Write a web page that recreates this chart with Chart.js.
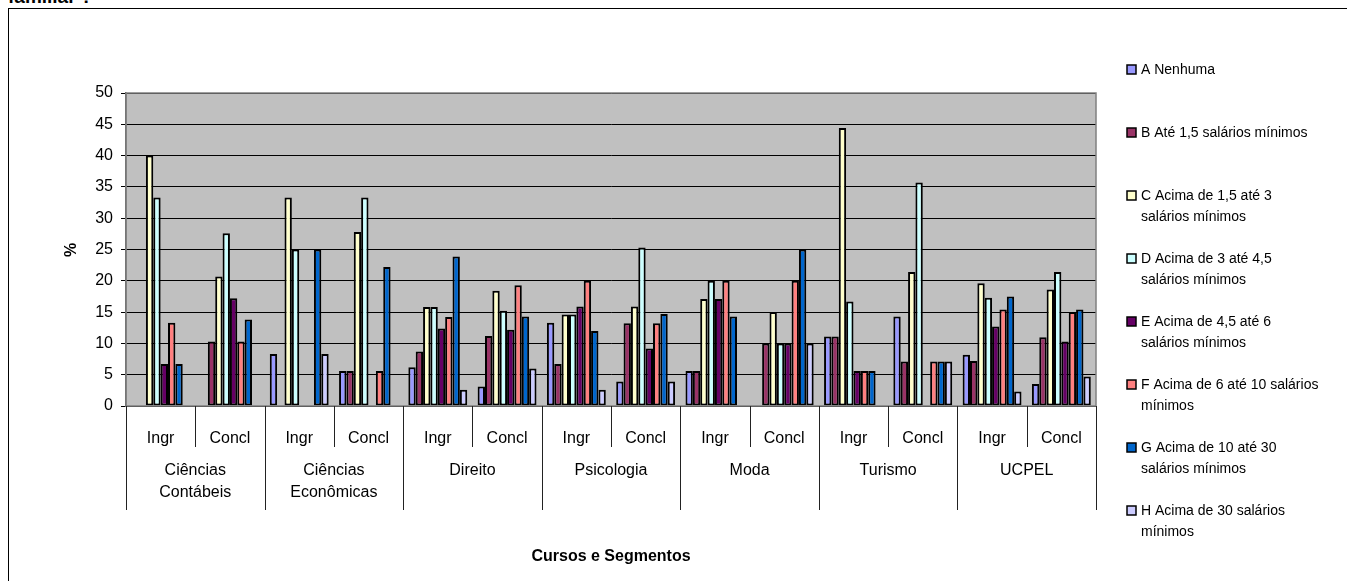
<!DOCTYPE html>
<html>
<head>
<meta charset="utf-8">
<script src="https://cdn.jsdelivr.net/npm/chart.js@4.4.1/dist/chart.umd.min.js"></script>
<style>
  body { margin: 0; background: #fff; overflow: hidden; font-family: Arial, "Liberation Sans", sans-serif; }
  #frame { position: absolute; left: 8px; top: 8px; width: 1400px; height: 600px;
           border-left: 1.5px solid #000; border-top: 1.5px solid #000; }
  #caption { position: absolute; left: 8px; top: -14px; font-weight: bold; font-size: 19px; color: #000; }
  #wrap { position: absolute; left: 0; top: 0; width: 1347px; height: 581px; }
</style>
</head>
<body>
<div id="caption">familiar ?</div>
<div id="frame"></div>
<div id="wrap"><canvas id="chart"></canvas></div>
<script>
// segments (inner axis level) and courses (outer axis level)
const segments = ['Ingr', 'Concl', 'Ingr', 'Concl', 'Ingr', 'Concl', 'Ingr', 'Concl', 'Ingr', 'Concl', 'Ingr', 'Concl', 'Ingr', 'Concl'];
const courses = [['Ciências', 'Contábeis'], ['Ciências', 'Econômicas'], ['Direito'], ['Psicologia'], ['Moda'], ['Turismo'], ['UCPEL']];

// income ranges
const seriesNames = [
    ['A Nenhuma'],
    ['B Até 1,5 salários mínimos'],
    ['C Acima de 1,5 até 3', 'salários mínimos'],
    ['D Acima de 3 até 4,5', 'salários mínimos'],
    ['E Acima de 4,5 até 6', 'salários mínimos'],
    ['F Acima de 6 até 10 salários', 'mínimos'],
    ['G Acima de 10 até 30', 'salários mínimos'],
    ['H Acima de 30 salários', 'mínimos']
];
const seriesColors = ['#9999FF', '#993366', '#FFFFCC', '#CCFFFF', '#660066', '#FF8080', '#0066CC', '#CCCCFF'];

// percentages per segment
const valuesA = [0, 0, 8.3, 5.6, 6.2, 3.1, 13.3, 3.9, 5.6, 0, 11.1, 14.3, 8.2, 3.5];
const valuesB = [0, 10.3, 0, 5.6, 8.7, 11.2, 6.7, 13.2, 5.6, 10.0, 11.1, 7.1, 7.2, 11.0];
const valuesC = [40.0, 20.7, 33.3, 27.8, 15.8, 18.4, 14.6, 15.9, 17.1, 15.0, 44.4, 21.4, 19.6, 18.6];
const valuesD = [33.3, 27.6, 25.0, 33.3, 15.8, 15.2, 14.6, 25.3, 20.0, 10.0, 16.7, 35.7, 17.3, 21.4];
const valuesE = [6.7, 17.2, 0, 0, 12.4, 12.2, 15.9, 9.2, 17.1, 10.0, 5.6, 0, 12.7, 10.3];
const valuesF = [13.3, 10.3, 0, 5.6, 14.2, 19.3, 20.0, 13.2, 20.0, 20.0, 5.6, 7.1, 15.4, 15.0];
const valuesG = [6.7, 13.8, 25.0, 22.2, 23.9, 14.3, 12.0, 14.7, 14.3, 25.0, 5.6, 7.1, 17.5, 15.4];
const valuesH = [0, 0, 8.3, 0, 2.6, 6.0, 2.6, 3.9, 0, 10.0, 0, 7.1, 2.3, 4.7];
const allValues = [valuesA, valuesB, valuesC, valuesD, valuesE, valuesF, valuesG, valuesH];

const FONT = 'Arial, "Liberation Sans", sans-serif';

// Grey plot area plus outline
const plotArea = {
    id: 'plotArea',
    beforeDraw(chart) {
        const { ctx, chartArea: a } = chart;
        ctx.save();
        ctx.fillStyle = '#C0C0C0';
        ctx.fillRect(a.left, a.top, a.right - a.left, a.bottom - a.top);
        ctx.restore();
    },
    afterDatasetsDraw(chart) {
        const { ctx, chartArea: a } = chart;
        ctx.save();
        ctx.strokeStyle = '#808080';
        ctx.lineWidth = 1.5;
        ctx.strokeRect(a.left, a.top, a.right - a.left, a.bottom - a.top);
        ctx.restore();
    }
};

// Two-level category axis, titles and the tall legend
const extras = {
    id: 'extras',
    afterDraw(chart) {
        const { ctx, chartArea: a } = chart;
        const x = chart.scales.x;
        const step = x.getPixelForValue(1) - x.getPixelForValue(0);
        ctx.save();

        // separators below the axis
        ctx.strokeStyle = '#222';
        ctx.lineWidth = 1;
        for (let i = 0; i <= segments.length; i++) {
            const px = Math.round(x.getPixelForValue(i) - step / 2) + 0.5;
            ctx.beginPath();
            ctx.moveTo(px, a.bottom);
            ctx.lineTo(px, i % 2 === 0 ? 510 : 447);
            ctx.stroke();
        }

        // course labels
        ctx.fillStyle = '#000';
        ctx.font = '16px ' + FONT;
        ctx.textAlign = 'center';
        ctx.textBaseline = 'middle';
        courses.forEach((lines, g) => {
            const cx = (x.getPixelForValue(g * 2) + x.getPixelForValue(g * 2 + 1)) / 2;
            lines.forEach((t, j) => ctx.fillText(t, cx, 471 + j * 22));
        });

        // axis titles
        ctx.font = 'bold 16px ' + FONT;
        ctx.fillText('Cursos e Segmentos', (a.left + a.right) / 2, 557);
        ctx.save();
        ctx.translate(72, 250);
        ctx.rotate(-Math.PI / 2);
        ctx.fillText('%', 0, 0);
        ctx.restore();

        // legend
        ctx.font = '14px ' + FONT;
        ctx.textAlign = 'left';
        seriesNames.forEach((lines, i) => {
            const y = 70 + i * 63;
            ctx.fillStyle = seriesColors[i];
            ctx.fillRect(1127, y - 5, 9, 9);
            ctx.strokeStyle = '#000';
            ctx.lineWidth = 1.5;
            ctx.strokeRect(1127, y - 5, 9, 9);
            ctx.fillStyle = '#000';
            lines.forEach((t, j) => ctx.fillText(t, 1141, y + j * 21));
        });
        ctx.restore();
    }
};

const datasets = allValues.map((vals, i) => ({
    label: seriesNames[i].join(' '),
    data: vals,
    backgroundColor: seriesColors[i],
    borderColor: '#000',
    borderWidth: 2,
    borderSkipped: false,
    categoryPercentage: 0.85,
    barPercentage: 1.0
}));

new Chart(document.getElementById('chart'), {
    type: 'bar',
    data: { labels: segments, datasets: datasets },
    options: {
        responsive: true,
        maintainAspectRatio: false,
        animation: false,
        layout: { padding: { top: 93, right: 251, left: 0, bottom: 0 } },
        plugins: {
            legend: { display: false },
            tooltip: { enabled: false }
        },
        scales: {
            x: {
                grid: { display: false },
                border: { display: false },
                ticks: {
                    color: '#000',
                    font: { family: FONT, size: 16 },
                    padding: 15,
                    autoSkip: false,
                    maxRotation: 0
                },
                afterFit(s) { s.height = 175; }
            },
            y: {
                min: 0,
                max: 50,
                ticks: {
                    stepSize: 5,
                    color: '#000',
                    font: { family: FONT, size: 16 },
                    padding: 8
                },
                grid: { color: '#000', lineWidth: 1, tickLength: 5 },
                border: { color: '#555', width: 1.5 },
                afterFit(s) { s.width = 126; }
            }
        }
    },
    plugins: [plotArea, extras]
});
</script>
</body>
</html>
